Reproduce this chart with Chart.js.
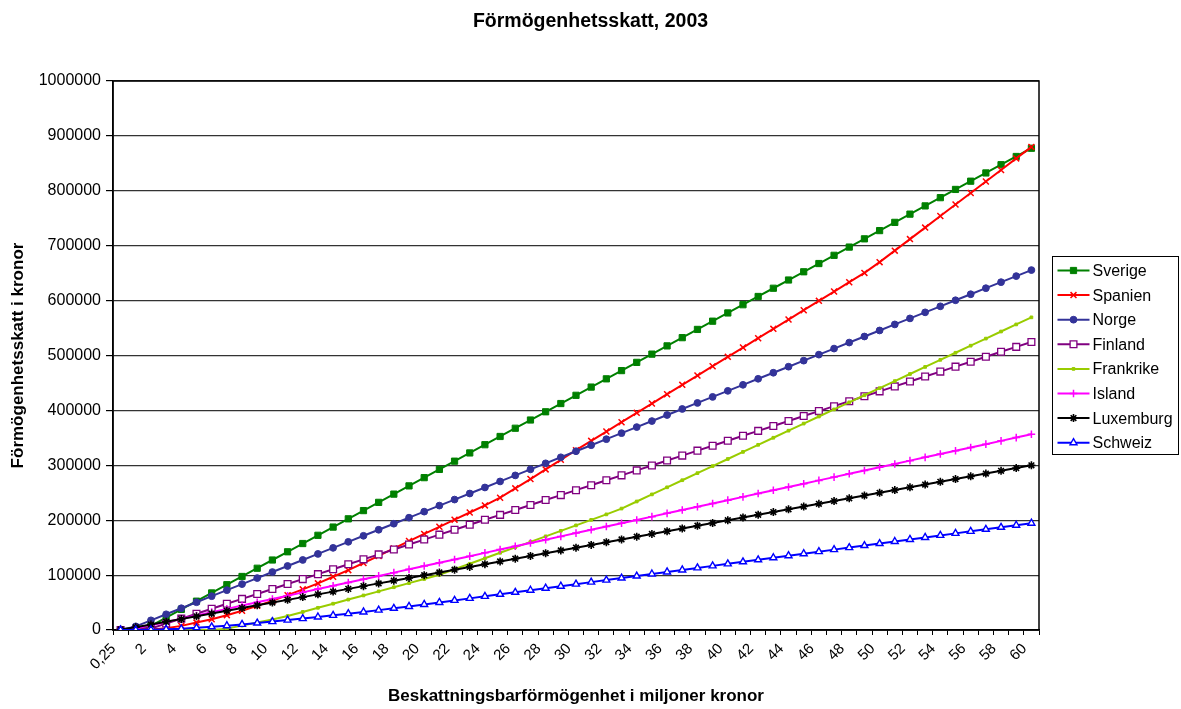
<!DOCTYPE html>
<html>
<head>
<meta charset="utf-8">
<script src="https://cdn.jsdelivr.net/npm/chart.js@4.4.1/dist/chart.umd.min.js"></script>
<style>
body{margin:0;background:#fff}
#wrap{width:1181px;height:709px}
</style>
</head>
<body>
<div id="wrap"><canvas id="c"></canvas></div>
<script>
const xLabels=['0,25','1','2','3','4','5','6','7','8','9','10','11','12','13','14','15','16','17','18','19','20',
'21','22','23','24','25','26','27','28','29','30','31','32','33','34','35','36','37','38','39','40',
'41','42','43','44','45','46','47','48','49','50','51','52','53','54','55','56','57','58','59','60']

const sverige=[0,0,7500,22500,37500,52500,67500,82500,97500,112500,127500,142500,157500,172500,187500,202500,217500,232500,247500,262500,277500,
292500,307500,322500,337500,352500,367500,382500,397500,412500,427500,442500,457500,472500,487500,502500,517500,532500,547500,562500,577500,
592500,607500,622500,637500,652500,667500,682500,697500,712500,727500,742500,757500,772500,787500,802500,817500,832500,847500,862500,877500]
const spanien=[0,0,1000,3000,7500,13500,19500,27000,35000,44000,53000,63500,74000,85000,97000,109000,122000,135000,148500,162000,175000,
188000,201000,214000,227000,241000,258000,275000,292500,310000,327500,344500,361500,378500,395500,412500,429500,446500,463500,480500,497500,
514500,531500,548500,565500,582500,599500,616500,633500,650500,670000,691000,712000,733000,754000,775000,796000,817000,838000,859000,880000]
const norge=[0,6600,17600,28600,39600,50600,61600,72600,83600,94600,105600,116600,127600,138600,149600,160600,171600,182600,193600,204600,215600,
226600,237600,248600,259600,270600,281600,292600,303600,314600,325600,336600,347600,358600,369600,380600,391600,402600,413600,424600,435600,
446600,457600,468600,479600,490600,501600,512600,523600,534600,545600,556600,567600,578600,589600,600600,611600,622600,633600,644600,655600]
const finland=[0,0,2700,11700,20700,29700,38700,47700,56700,65700,74700,83700,92700,101700,110700,119700,128700,137700,146700,155700,164700,
173700,182700,191700,200700,209700,218700,227700,236700,245700,254700,263700,272700,281700,290700,299700,308700,317700,326700,335700,344700,
353700,362700,371700,380700,389700,398700,407700,416700,425700,434700,443700,452700,461700,470700,479700,488700,497700,506700,515700,524700]
const frankrike=[0,0,0,0,0,0,0,2500,8000,13500,19000,25400,32900,40400,47900,55400,62900,70400,77900,85400,92900,
100600,110600,120600,130600,140600,150600,160600,170600,180600,190600,200600,210600,221200,234100,247000,259900,272800,285700,298600,311500,
324400,337300,350200,363100,376000,388900,401800,414700,427600,440500,453400,466300,479200,492100,505000,517900,530800,543700,556600,569500]
const island=[0,2500,8500,14500,20500,26500,32500,38500,44500,50500,56500,62500,68500,74500,80500,86500,92500,98500,104500,110500,116500,
122500,128500,134500,140500,146500,152500,158500,164500,170500,176500,182500,188500,194500,200500,206500,212500,218500,224500,230500,236500,
242500,248500,254500,260500,266500,272500,278500,284500,290500,296500,302500,308500,314500,320500,326500,332500,338500,344500,350500,356500]
const luxemburg=[1100,4900,9900,14900,19900,24900,29900,34900,39900,44900,49900,54900,59900,64900,69900,74900,79900,84900,89900,94900,99900,
104900,109900,114900,119900,124900,129900,134900,139900,144900,149900,154900,159900,164900,169900,174900,179900,184900,189900,194900,199900,
204900,209900,214900,219900,224900,229900,234900,239900,244900,249900,254900,259900,264900,269900,274900,279900,284900,289900,294900,299900]
const schweiz=[0,0,500,1200,2200,4000,5800,7800,10200,12700,15300,18000,20800,23700,26700,29800,32900,36200,39500,42900,46500,
50200,53900,57600,61300,65000,68700,72400,76100,79800,83500,87200,90900,94600,98300,102000,105700,109400,113100,116800,120500,
124200,127900,131600,135300,139000,142700,146400,150100,153800,157500,161200,164900,168600,172300,176000,179700,183400,187100,190800,194500]

const yMin=0, yMax=1000000, yStep=100000
const FONT='"Liberation Sans", Arial, sans-serif'

const serie=(label,data,color,style,r,bg,bw)=>({
  label:label, data:data,
  borderColor:color, borderWidth:2,
  pointStyle:style, pointRadius:r, pointHoverRadius:r,
  pointBackgroundColor:bg||color, pointBorderColor:color, pointBorderWidth:bw||1,
  tension:0, fill:false
})

const datasets=[
  serie('Sverige',sverige,'#008000','rect',4.4),
  serie('Spanien',spanien,'#FF0000','crossRot',4.2,null,1.5),
  serie('Norge',norge,'#333399','circle',3.4),
  serie('Finland',finland,'#800080','rect',4.8,'#FFFFFF',1.3),
  serie('Frankrike',frankrike,'#99CC00','rect',1.9),
  serie('Island',island,'#FF00FF','cross',3.8,null,1.5),
  serie('Luxemburg',luxemburg,'#000000','star',4,null,1.6),
  serie('Schweiz',schweiz,'#0000FF','triangle',4,'#FFFFFF',1.4)
]
datasets.forEach((d,i)=>{d.order=datasets.length-i})

// ram runt ritytan
const ram={
  id:'ram',
  beforeDatasetsDraw(chart){
    const a=chart.chartArea, ctx=chart.ctx
    ctx.save()
    ctx.strokeStyle='#000'
    ctx.lineWidth=1.5
    ctx.strokeRect(a.left,a.top,a.right-a.left,a.bottom-a.top)
    ctx.restore()
  }
}

// egen förklaring med ram
const forklaring={
  id:'forklaring',
  afterDraw(chart){
    const ctx=chart.ctx
    const left=chart.chartArea.right+13.5
    const top=256.5
    ctx.save()
    ctx.strokeStyle='#000'
    ctx.lineWidth=1
    ctx.strokeRect(left,top,126,198)
    chart.data.datasets.forEach((ds,i)=>{
      const y=top+14+i*24.6
      ctx.strokeStyle=ds.borderColor
      ctx.lineWidth=ds.borderWidth
      ctx.beginPath()
      ctx.moveTo(left+5,y)
      ctx.lineTo(left+37,y)
      ctx.stroke()
      ctx.fillStyle=ds.pointBackgroundColor
      ctx.strokeStyle=ds.pointBorderColor
      ctx.lineWidth=ds.pointBorderWidth
      if(Chart.helpers&&Chart.helpers.drawPoint){
        Chart.helpers.drawPoint(ctx,{pointStyle:ds.pointStyle,radius:ds.pointRadius,rotation:0,borderWidth:ds.pointBorderWidth},left+21,y)
      }
      ctx.fillStyle='#000'
      ctx.font='16px '+FONT
      ctx.textAlign='left'
      ctx.textBaseline='middle'
      ctx.fillText(ds.label,left+40,y+1)
    })
    ctx.restore()
  }
}

new Chart(document.getElementById('c'),{
  type:'line',
  data:{labels:xLabels,datasets:datasets},
  plugins:[ram,forklaring],
  options:{
    responsive:true,
    maintainAspectRatio:false,
    devicePixelRatio:1,
    animation:false,
    layout:{padding:0},
    plugins:{
      legend:{display:false},
      tooltip:{enabled:false},
      title:{display:true,text:'Förmögenhetsskatt, 2003',color:'#000',
        font:{family:FONT,size:19.5,weight:'bold'},padding:{top:10.3,bottom:47.3}}
    },
    scales:{
      x:{
        offset:true,
        grid:{offset:true,drawOnChartArea:false,tickLength:5,color:'#000',tickColor:'#000'},
        border:{color:'#000',width:1.5},
        ticks:{autoSkip:false,minRotation:45,maxRotation:45,padding:5,labelOffset:-7,color:'#000',
          font:{family:FONT,size:15},
          callback:function(v,i){return i%2===0?this.getLabelForValue(v):''}},
        title:{display:true,text:'Beskattningsbarförmögenhet i miljoner kronor',color:'#000',
          font:{family:FONT,size:17,weight:'bold'},padding:{top:0,bottom:2}},
        afterFit(s){s.height=79}
      },
      y:{
        min:yMin,max:yMax,
        grid:{color:'#333',lineWidth:1.2,tickLength:7,tickColor:'#000'},
        border:{color:'#000',width:1.5},
        ticks:{stepSize:yStep,padding:5,color:'#000',font:{family:FONT,size:16},callback:v=>String(v)},
        title:{display:true,text:'Förmögenhetsskatt i kronor',color:'#000',
          font:{family:FONT,size:17,weight:'bold'},padding:{top:8,bottom:0}},
        afterFit(s){s.width=113}
      },
      y2:{
        position:'right',
        grid:{display:false},
        border:{display:false},
        ticks:{display:false},
        afterFit(s){s.width=142}
      }
    }
  }
})
</script>
</body>
</html>
